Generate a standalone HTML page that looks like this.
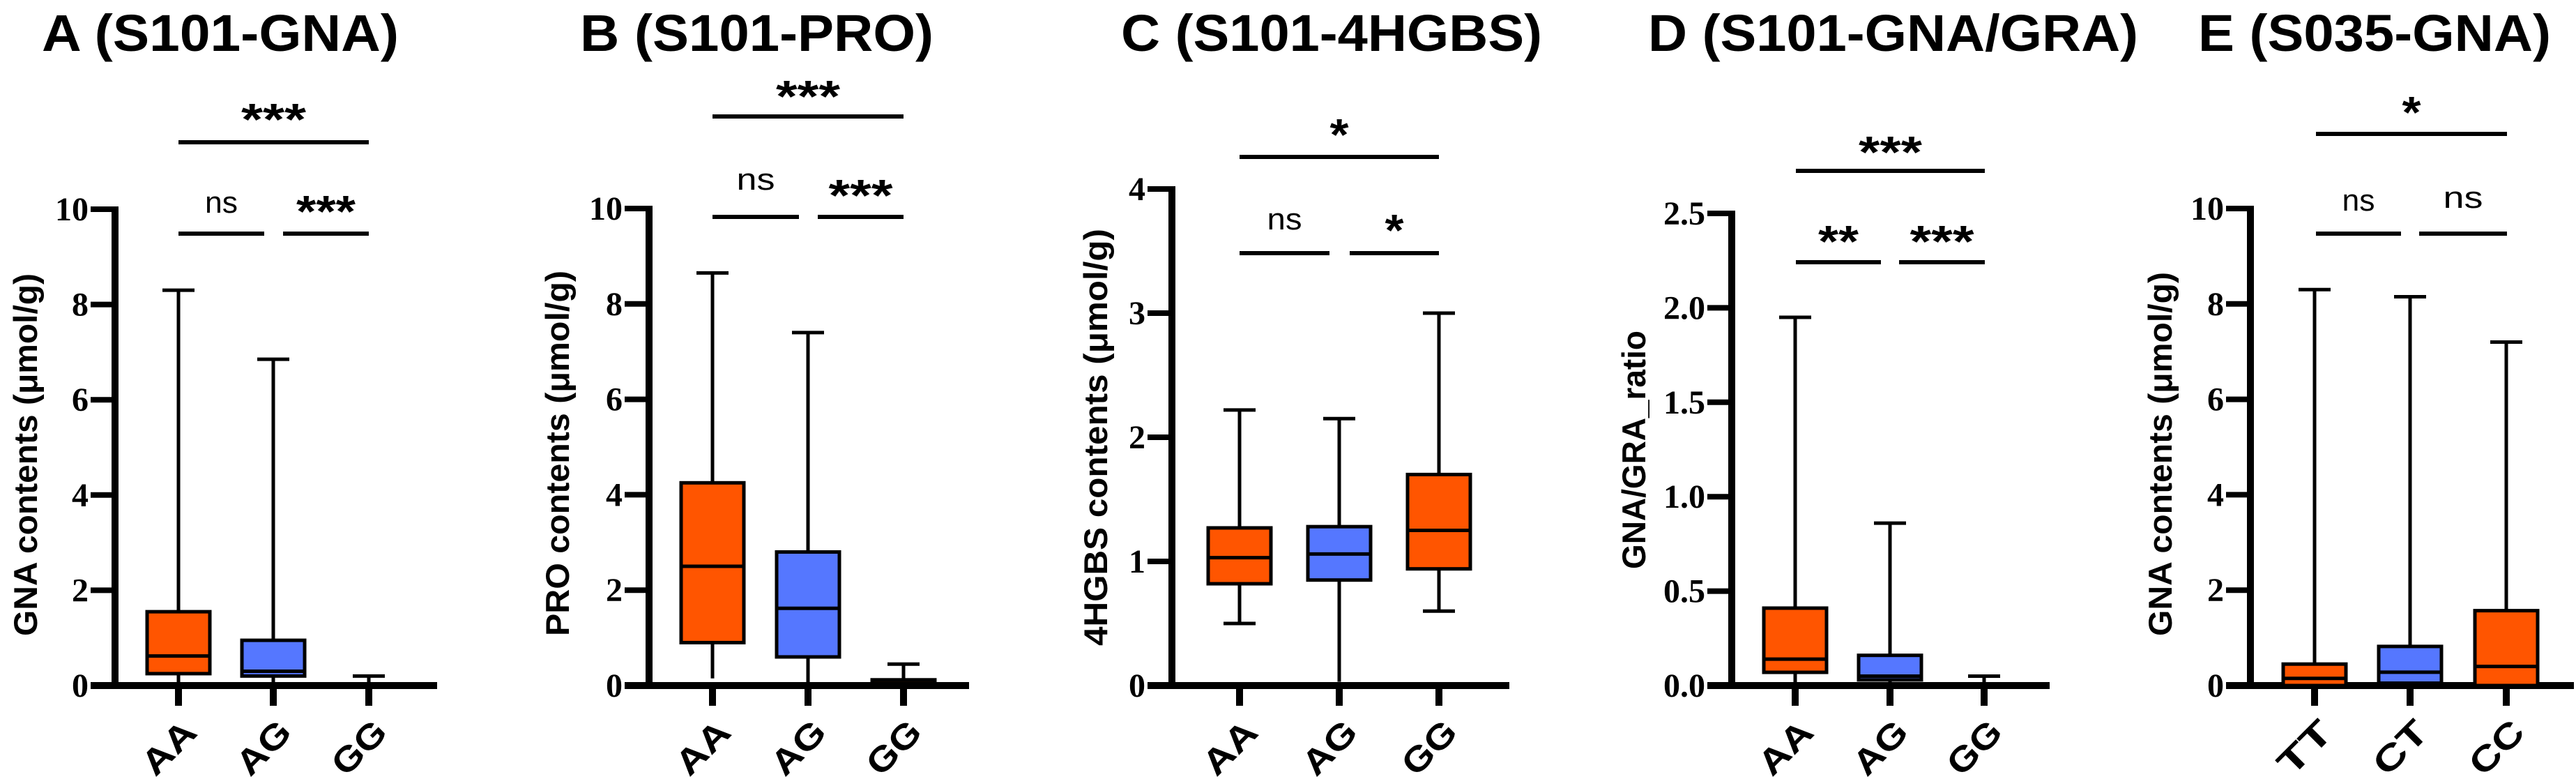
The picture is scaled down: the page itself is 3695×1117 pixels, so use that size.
<!DOCTYPE html>
<html><head><meta charset="utf-8"><style>
html,body{margin:0;padding:0;background:#fff;}
svg{display:block;}
text{font-family:"Liberation Sans",Arial,sans-serif;}
text.serif{font-family:"Liberation Serif","DejaVu Serif",serif !important;}
</style></head><body>
<svg id="fig" width="3695" height="1117" viewBox="0 0 3695 1117" xmlns="http://www.w3.org/2000/svg"></svg>
<script>
// ---- Data arrays ----
const aCats = ["AA","AG","GG"];
const aMax = [8.3, 6.85, 0.2];
const aQ3  = [1.55, 0.95, 0];
const aMed = [0.62, 0.3, 0];
const aQ1  = [0.25, 0.2, 0];
const aMin = [0, 0, 0];
const aTicks = ["0","2","4","6","8","10"];

const bCats = ["AA","AG","GG"];
const bMax = [8.65, 7.4, 0.45];
const bQ3  = [4.25, 2.8, 0.12];
const bMed = [2.5, 1.62, 0.05];
const bQ1  = [0.9, 0.6, 0.0];
const bMin = [0.15, 0, 0];
const bTicks = ["0","2","4","6","8","10"];

const cCats = ["AA","AG","GG"];
const cMax = [2.22, 2.15, 3.0];
const cQ3  = [1.27, 1.28, 1.7];
const cMed = [1.03, 1.06, 1.25];
const cQ1  = [0.82, 0.85, 0.94];
const cMin = [0.5, 0.03, 0.6];
const cTicks = ["0","1","2","3","4"];

const dCats = ["AA","AG","GG"];
const dMax = [1.95, 0.86, 0.05];
const dQ3  = [0.41, 0.16, 0];
const dMed = [0.14, 0.05, 0];
const dQ1  = [0.07, 0.03, 0];
const dMin = [0, 0, 0];
const dTicks = ["0.0","0.5","1.0","1.5","2.0","2.5"];

const eCats = ["TT","CT","CC"];
const eMax = [8.3, 8.15, 7.2];
const eQ3  = [0.45, 0.82, 1.57];
const eMed = [0.15, 0.28, 0.4];
const eQ1  = [0.0, 0.05, 0.0];
const eMin = [0, 0, 0];
const eTicks = ["0","2","4","6","8","10"];

const ORANGE = "#FF5500", BLUE = "#5577FF";
const NS = "http://www.w3.org/2000/svg";
const svg = document.getElementById("fig");

function mk(tag, attrs, parent) {
  const e = document.createElementNS(NS, tag);
  for (const k in attrs) e.setAttribute(k, attrs[k]);
  (parent || svg).appendChild(e);
  return e;
}

const panels = [
  {id:"a", title:"A (S101-GNA)", tx0:60, tx1:572, ax:165, top:300, zero:983, xEnd:627, cats:aCats, max:aMax, q3:aQ3, med:aMed, q1:aQ1, min:aMin, ticks:aTicks, ymax:10,
   xs:[256,392,529], colors:[ORANGE,BLUE,ORANGE], ytitle:"GNA contents (μmol/g)", ytBase:53, ytC:652, ytLen:520,
   sig:[{x0:256,x1:529,y:204,lab:"***",ly:160,lw:93},{x0:256,x1:379,y:335,lab:"ns",ly:293,lw:47},{x0:406,x1:529,y:335,lab:"***",ly:292,lw:85}]},
  {id:"b", title:"B (S101-PRO)", tx0:832, tx1:1339, ax:931, top:299, zero:983, xEnd:1390, cats:bCats, max:bMax, q3:bQ3, med:bMed, q1:bQ1, min:bMin, ticks:bTicks, ymax:10,
   xs:[1022,1159,1296], colors:[ORANGE,BLUE,ORANGE], ytitle:"PRO contents (μmol/g)", ytBase:816, ytC:650, ytLen:524,
   sig:[{x0:1022,x1:1296,y:167,lab:"***",ly:127,lw:92},{x0:1022,x1:1146,y:311,lab:"ns",ly:260,lw:55},{x0:1173,x1:1296,y:311,lab:"***",ly:269,lw:92}]},
  {id:"c", title:"C (S101-4HGBS)", tx0:1608, tx1:2212, ax:1681, top:271, zero:983, xEnd:2165, cats:cCats, max:cMax, q3:cQ3, med:cMed, q1:cQ1, min:cMin, ticks:cTicks, ymax:4,
   xs:[1778,1921,2064], colors:[ORANGE,BLUE,ORANGE], ytitle:"4HGBS contents (μmol/g)", ytBase:1588, ytC:627, ytLen:598,
   sig:[{x0:1778,x1:2064,y:225,lab:"*",ly:182,lw:27},{x0:1778,x1:1907,y:363,lab:"ns",ly:317,lw:50},{x0:1936,x1:2064,y:363,lab:"*",ly:319,lw:27}]},
  {id:"d", title:"D (S101-GNA/GRA)", tx0:2364, tx1:3067, ax:2484, top:306, zero:983, xEnd:2940, cats:dCats, max:dMax, q3:dQ3, med:dMed, q1:dQ1, min:dMin, ticks:dTicks, ymax:2.5,
   xs:[2575,2711,2846], colors:[ORANGE,BLUE,ORANGE], ytitle:"GNA/GRA_ratio", ytBase:2360, ytC:645, ytLen:342,
   sig:[{x0:2576,x1:2847,y:245,lab:"***",ly:207,lw:91},{x0:2576,x1:2698,y:376,lab:"**",ly:335,lw:58},{x0:2724,x1:2847,y:376,lab:"***",ly:335,lw:92}]},
  {id:"e", title:"E (S035-GNA)", tx0:3153, tx1:3659, ax:3228, top:299, zero:983, xEnd:3692, cats:eCats, max:eMax, q3:eQ3, med:eMed, q1:eQ1, min:eMin, ticks:eTicks, ymax:10,
   xs:[3320,3457,3595], colors:[ORANGE,BLUE,ORANGE], ytitle:"GNA contents (μmol/g)", ytBase:3115, ytC:651, ytLen:522,
   sig:[{x0:3322,x1:3596,y:192,lab:"*",ly:150,lw:27},{x0:3322,x1:3444,y:335,lab:"ns",ly:290,lw:47},{x0:3470,x1:3596,y:335,lab:"ns",ly:286,lw:57}]}
];

panels.forEach(p => {
  const g = mk("g", {});
  
  
  const yS = v => p.zero - (v / p.ymax) * (p.zero - p.top);

  const t = mk("text", {x:p.tx0, y:73, "font-size":74, "font-weight":"bold", textLength:p.tx1-p.tx0, lengthAdjust:"spacingAndGlyphs", fill:"#000"}, g);
  t.textContent = p.title;
  
  

  const yt = mk("text", {x:0, y:0, transform:`translate(${p.ytBase},${p.ytC}) rotate(-90)`, "text-anchor":"middle", "font-size":47, "font-weight":"bold", textLength:p.ytLen, lengthAdjust:"spacingAndGlyphs", fill:"#000"}, g);
  yt.textContent = p.ytitle;
  
  

  p.ticks.forEach((lab, i) => {
    const v = p.ymax * i / (p.ticks.length - 1);
    const y = yS(v);
    const tk = mk("line", {x1:p.ax-35, x2:p.ax, y1:y, y2:y, stroke:"#000", "stroke-width":8}, g);
    
    
    const tl = mk("text", {x:p.ax-38, y:y+16, "text-anchor":"end", "font-size":48, "font-weight":"bold", "class":"serif", fill:"#000"}, g);
    tl.textContent = lab;
    
    
  });

  const ya = mk("line", {x1:p.ax, x2:p.ax, y1:p.top-4, y2:p.zero+5, stroke:"#000", "stroke-width":10}, g);
  
  
  const xa = mk("line", {x1:p.ax-35, x2:p.xEnd, y1:p.zero, y2:p.zero, stroke:"#000", "stroke-width":10}, g);
  
  

  p.cats.forEach((c, i) => {
    const x = p.xs[i], bw = 90, cw = 46;
    const whi = mk("line", {x1:x, x2:x, y1:yS(p.max[i]), y2:yS(p.min[i]), stroke:"#000", "stroke-width":5}, g);
    
    
    const capT = mk("line", {x1:x-cw/2, x2:x+cw/2, y1:yS(p.max[i]), y2:yS(p.max[i]), stroke:"#000", "stroke-width":5}, g);
    
    
    if (p.min[i] > 0.02 * p.ymax) {
      const capB = mk("line", {x1:x-cw/2, x2:x+cw/2, y1:yS(p.min[i]), y2:yS(p.min[i]), stroke:"#000", "stroke-width":5}, g);
      
      
    }
    if (p.q3[i] > p.q1[i]) {
      const r = mk("rect", {x:x-bw/2, y:yS(p.q3[i]), width:bw, height:yS(p.q1[i])-yS(p.q3[i]), fill:p.colors[i], stroke:"#000", "stroke-width":5}, g);
      
      
      const m = mk("line", {x1:x-bw/2, x2:x+bw/2, y1:yS(p.med[i]), y2:yS(p.med[i]), stroke:"#000", "stroke-width":5}, g);
      
      
    }
    const xt = mk("line", {x1:x, x2:x, y1:p.zero, y2:p.zero+29, stroke:"#000", "stroke-width":10}, g);
    
    
    const xl = mk("text", {x:0, y:0, transform:`translate(${x-2},${p.zero+101}) rotate(-45)`, "text-anchor":"middle", "font-size":50, "font-weight":"bold", textLength:88, lengthAdjust:"spacingAndGlyphs", fill:"#000"}, g);
    xl.textContent = c;
    
    
  });

  p.sig.forEach(s => {
    const l = mk("line", {x1:s.x0, x2:s.x1, y1:s.y, y2:s.y, stroke:"#000", "stroke-width":6}, g);
    
    
    const isStar = s.lab.indexOf("*") >= 0;
    const fs = isStar ? 64 : 44;
    const base = isStar ? s.ly + 33 : s.ly + 12;
    const st = mk("text", {x:(s.x0+s.x1)/2, y:base, "text-anchor":"middle", "font-size":fs, "font-weight":isStar?"bold":"normal", textLength:s.lw, lengthAdjust:"spacingAndGlyphs", fill:"#000"}, g);
    st.textContent = s.lab;
    
    
  });
});
</script>
</body></html>
